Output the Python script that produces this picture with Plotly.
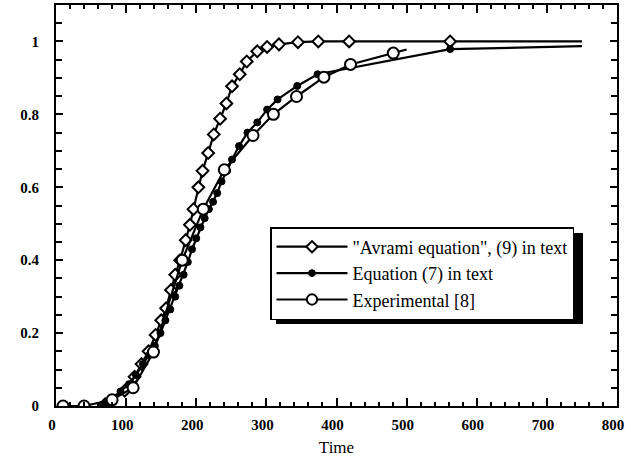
import plotly.graph_objects as go

# Avrami equation (open diamonds)
avrami_x = [70, 98, 112, 122, 132, 142, 150, 157, 164, 170, 177, 185, 191, 196, 203, 209, 217,
            225, 234, 243, 251, 262, 272, 287, 301, 318, 345, 374, 418, 562, 750]
avrami_y = [0.005, 0.042, 0.08, 0.115, 0.15, 0.195, 0.235, 0.268, 0.318, 0.36, 0.40, 0.455,
            0.497, 0.54, 0.60, 0.645, 0.694, 0.745, 0.788, 0.83, 0.877, 0.91, 0.945, 0.973,
            0.985, 0.992, 0.998, 1.0, 1.0, 1.0, 1.0]

# Equation (7) (small filled circles)
eq7_x = [70, 92, 104, 114, 124, 133, 141, 149, 156, 163, 170, 176, 182, 188, 194, 200, 206,
         212, 218, 224, 230, 236, 244, 251, 261, 273, 287, 301, 316, 344, 373, 562, 750]
eq7_y = [0.005, 0.04, 0.06, 0.085, 0.115, 0.14, 0.165, 0.2, 0.235, 0.265, 0.30, 0.33, 0.36,
         0.395, 0.43, 0.46, 0.49, 0.515, 0.54, 0.56, 0.584, 0.616, 0.645, 0.676, 0.713, 0.75,
         0.778, 0.813, 0.841, 0.878, 0.91, 0.979, 0.987]

# Experimental [8] (large open circles)
exp_x = [10, 40, 80, 110, 139, 180, 210, 240, 281, 310, 343, 382, 420, 481, 500]
exp_y = [0.0, 0.0, 0.017, 0.05, 0.148, 0.40, 0.54, 0.648, 0.742, 0.80, 0.849, 0.902, 0.937,
         0.968, 0.978]

x_ticks = [0, 100, 200, 300, 400, 500, 600, 700, 800]
y_ticks = [0, 0.2, 0.4, 0.6, 0.8, 1]
y_tick_labels = ["0", "0.2", "0.4", "0.6", "0.8", "1"]

labels = ['"Avrami equation", (9) in text', 'Equation (7) in text', 'Experimental [8]']

def sizes(n, s):
    return [s] * (n - 1) + [0]

fig = go.Figure()
fig.add_trace(go.Scatter(
    x=avrami_x, y=avrami_y, mode="lines+markers", name=labels[0], legendgroup="a",
    line=dict(color="black", width=2.2),
    marker=dict(symbol="diamond", size=sizes(len(avrami_x), 9), color="white", opacity=1,
                line=dict(color="black", width=2)),
))
fig.add_trace(go.Scatter(
    x=eq7_x, y=eq7_y, mode="lines+markers", name=labels[1], legendgroup="b",
    line=dict(color="black", width=2.2),
    marker=dict(symbol="circle", size=sizes(len(eq7_x), 7), color="black", opacity=1,
                line=dict(color="black", width=1)),
))
fig.add_trace(go.Scatter(
    x=exp_x, y=exp_y, mode="lines+markers", name=labels[2], legendgroup="c",
    line=dict(color="black", width=2.2),
    marker=dict(symbol="circle", size=sizes(len(exp_x), 11), color="white", opacity=1,
                line=dict(color="black", width=2)),
))

L, R, T, B = 56, 14, 5, 51
W, H = 631, 457
pw, ph = W - L - R, H - T - B

def px_x(p):
    return (p - L) / pw

def px_y(p):
    return (H - B - p) / ph

# legend drop shadow
fig.add_shape(type="rect", xref="paper", yref="paper",
              x0=px_x(276), x1=px_x(583), y0=px_y(324), y1=px_y(233),
              fillcolor="black", line=dict(width=0), layer="above")

axis_common = dict(
    showgrid=False, zeroline=False, showline=True, linecolor="black", linewidth=2,
    mirror="allticks", ticks="inside", tickcolor="black", tickwidth=1.5, automargin=False,
    tickfont=dict(family="Liberation Serif", size=15, color="black", weight="bold"),
)

fig.update_layout(
    width=W, height=H,
    margin=dict(l=L, r=R, t=T, b=B),
    paper_bgcolor="white", plot_bgcolor="white",
    showlegend=True,
    legend=dict(
        x=px_x(270), y=px_y(227), xanchor="left", yanchor="top",
        bgcolor="white", bordercolor="black", borderwidth=1.5,
        font=dict(family="Liberation Serif", size=18, color="black"),
        traceorder="grouped", tracegroupgap=0, itemwidth=71,
        entrywidth=235, entrywidthmode="pixels",
    ),
    xaxis=dict(
        range=[0, 800], tickvals=x_ticks, ticklen=8, ticklabelshift=-4,
        ticklabelstandoff=4,
        minor=dict(dtick=20, ticklen=4, ticks="inside", tickcolor="black", tickwidth=1.5),
        title=dict(text="Time", font=dict(family="Liberation Serif", size=17, color="black"),
                   standoff=12),
        **axis_common,
    ),
    yaxis=dict(
        range=[0, 1.1], tickvals=y_ticks, ticktext=y_tick_labels, ticklen=7,
        ticklabelstandoff=12,
        minor=dict(dtick=0.05, ticklen=6, ticks="inside", tickcolor="black", tickwidth=1.5),
        **axis_common,
    ),
)

fig.write_html("out.html", config={"displayModeBar": False},
               post_script="document.body.style.margin='0';")
